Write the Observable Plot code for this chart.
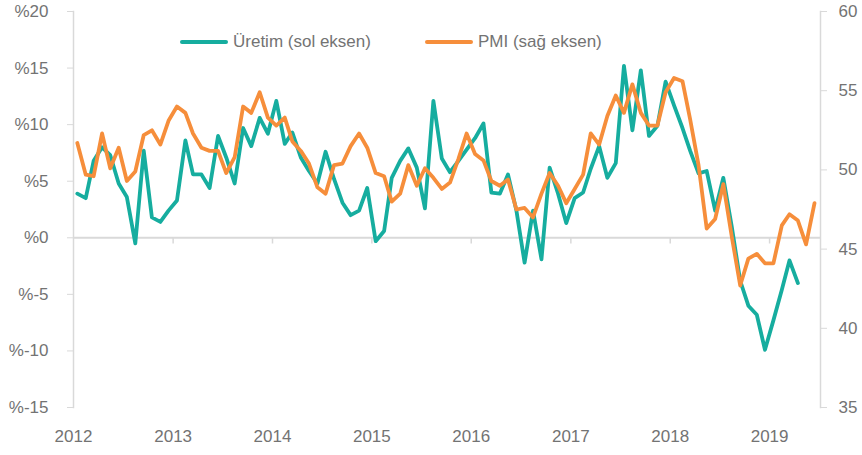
<!DOCTYPE html>
<html>
<head>
<meta charset="utf-8">
<script src="https://cdn.jsdelivr.net/npm/d3@7"></script>
<script src="https://cdn.jsdelivr.net/npm/@observablehq/plot@0.6"></script>
<style>
  body { margin: 0; background: #fff; font-family: "Liberation Sans", Arial, sans-serif; }
  #wrap { position: relative; width: 862px; height: 455px; }
  .leg { position: absolute; top: 31px; display: flex; align-items: center; font-size: 17px; color: #737373; white-space: nowrap; line-height: 22px; }
  .sw { display: inline-block; width: 48px; height: 4px; margin-right: 5px; border-radius: 2px; }
</style>
</head>
<body>
<div id="wrap"><div id="chart"></div></div>
<script>
// Series names
const seriesNames = ["Üretim (sol eksen)", "PMI (sağ eksen)"];
const seriesColors = ["#16ad9f", "#f68e3b"];

// Monthly data starting Jan 2012
const startYear = 2012;
const uretim = [
  3.9, 3.5, 6.8, 8.0, 7.3, 4.8, 3.6, -0.5, 7.7, 1.8, 1.4, 2.4,
  3.3, 8.6, 5.6, 5.6, 4.4, 9.0, 7.1, 4.8, 9.7, 8.1, 10.6, 9.2,
  12.1, 8.3, 9.3, 7.1, 5.9, 4.8, 7.6, 5.2, 3.1, 2.0, 2.4, 4.4,
  -0.3, 0.6, 5.3, 6.8, 7.9, 6.2, 2.6, 12.1, 7.0, 5.8, 6.8, 7.8,
  8.8, 10.1, 4.0, 3.9, 5.6, 2.4, -2.2, 2.4, -1.9, 6.2, 3.9, 1.3,
  3.5, 4.0, 6.1, 8.1, 5.3, 6.6, 15.2, 9.5, 14.8, 9.0, 9.9, 13.8,
  11.7, 9.7, 7.7, 5.7, 5.9, 2.4, 5.3, 1.0, -3.8, -6.0, -6.8, -9.9,
  -7.3, -4.6, -2.0, -4.0
];
const pmi = [
  51.7, 49.7, 49.6, 52.3, 50.1, 51.4, 49.3, 49.9, 52.2, 52.5, 51.6, 53.1,
  54.0, 53.6, 52.3, 51.4, 51.2, 51.2, 49.8, 50.8, 54.0, 53.6, 54.9, 53.3,
  52.8, 53.3, 51.8, 51.2, 50.4, 48.9, 48.5, 50.3, 50.4, 51.5, 52.3, 51.4,
  49.8, 49.6, 48.0, 48.5, 50.3, 49.0, 50.1, 49.5, 48.8, 49.2, 50.7, 52.3,
  51.0, 50.6, 49.3, 49.0, 49.4, 47.5, 47.6, 47.0, 48.5, 49.8, 49.0, 47.9,
  48.8, 49.7, 52.3, 51.6, 53.4, 54.7, 53.6, 55.4, 53.6, 52.8, 52.8, 54.9,
  55.8, 55.6, 53.2, 50.3, 46.3, 46.9, 49.1, 45.8, 42.7, 44.4, 44.7, 44.1,
  44.1, 46.5, 47.2, 46.8, 45.3, 47.9
];

// Axis ticks
const leftTicks = [-15, -10, -5, 0, 5, 10, 15, 20];
const rightTicks = [35, 40, 45, 50, 55, 60];
const yearTicks = [2012, 2013, 2014, 2015, 2016, 2017, 2018, 2019];

const monthDate = i => new Date(Date.UTC(startYear, i, 15));
const toLeft = p => -15 + (p - 35) * 1.4;
const fromLeft = v => Math.round(35 + (v + 15) / 1.4);

const uretimData = uretim.map((v, i) => ({date: monthDate(i), value: v}));
const pmiData = pmi.map((v, i) => ({date: monthDate(i), value: v}));
const yearDates = yearTicks.map(y => new Date(Date.UTC(y, 0, 1)));

const gray = "#737373";
const lineGray = "#d9d9d9";

const chart = Plot.plot({
  width: 862,
  height: 455,
  marginLeft: 73,
  marginRight: 42,
  marginTop: 11,
  marginBottom: 48,
  x: {type: "utc", domain: [new Date(Date.UTC(2012, 0, 1)), new Date(Date.UTC(2019, 6, 7))], label: null},
  y: {domain: [-15, 20], label: null},
  style: {fontFamily: "'Liberation Sans', Arial, sans-serif", fontSize: "17px", color: gray, background: "#fff"},
  marks: [
    Plot.frame({anchor: "left", stroke: lineGray, strokeWidth: 1.5}),
    Plot.frame({anchor: "right", stroke: lineGray, strokeWidth: 1.5}),
    Plot.ruleY([0], {stroke: lineGray, strokeWidth: 2}),
    Plot.ruleX(yearDates.slice(1), {y1: 0, y2: -0.55, stroke: lineGray, strokeWidth: 1.5}),
    Plot.axisY(leftTicks, {anchor: "left", tickSize: 6, tickPadding: 19, tickFormat: v => "%" + v, stroke: lineGray, fill: gray, label: null}),
    Plot.axisY(rightTicks.map(toLeft), {anchor: "right", tickSize: 6, tickPadding: 12, tickFormat: v => String(fromLeft(v)), stroke: lineGray, fill: gray, label: null}),
    Plot.axisX(yearDates, {anchor: "bottom", tickSize: 0, tickPadding: 22, tickFormat: d => String(d.getUTCFullYear()), fill: gray, label: null}),
    Plot.line(uretimData, {x: "date", y: "value", stroke: seriesColors[0], strokeWidth: 3.8, strokeLinejoin: "round", strokeLinecap: "round"}),
    Plot.line(pmiData, {x: "date", y: d => toLeft(d.value), stroke: seriesColors[1], strokeWidth: 3.8, strokeLinejoin: "round", strokeLinecap: "round"})
  ]
});
document.getElementById("chart").appendChild(chart);

// Legend overlay
const legendLeft = [180, 425];
const wrap = document.getElementById("wrap");
seriesNames.forEach((name, i) => {
  const item = document.createElement("div");
  item.className = "leg";
  item.style.left = legendLeft[i] + "px";
  const sw = document.createElement("span");
  sw.className = "sw";
  sw.style.background = seriesColors[i];
  item.appendChild(sw);
  item.appendChild(document.createTextNode(name));
  wrap.appendChild(item);
});
</script>
</body>
</html>
